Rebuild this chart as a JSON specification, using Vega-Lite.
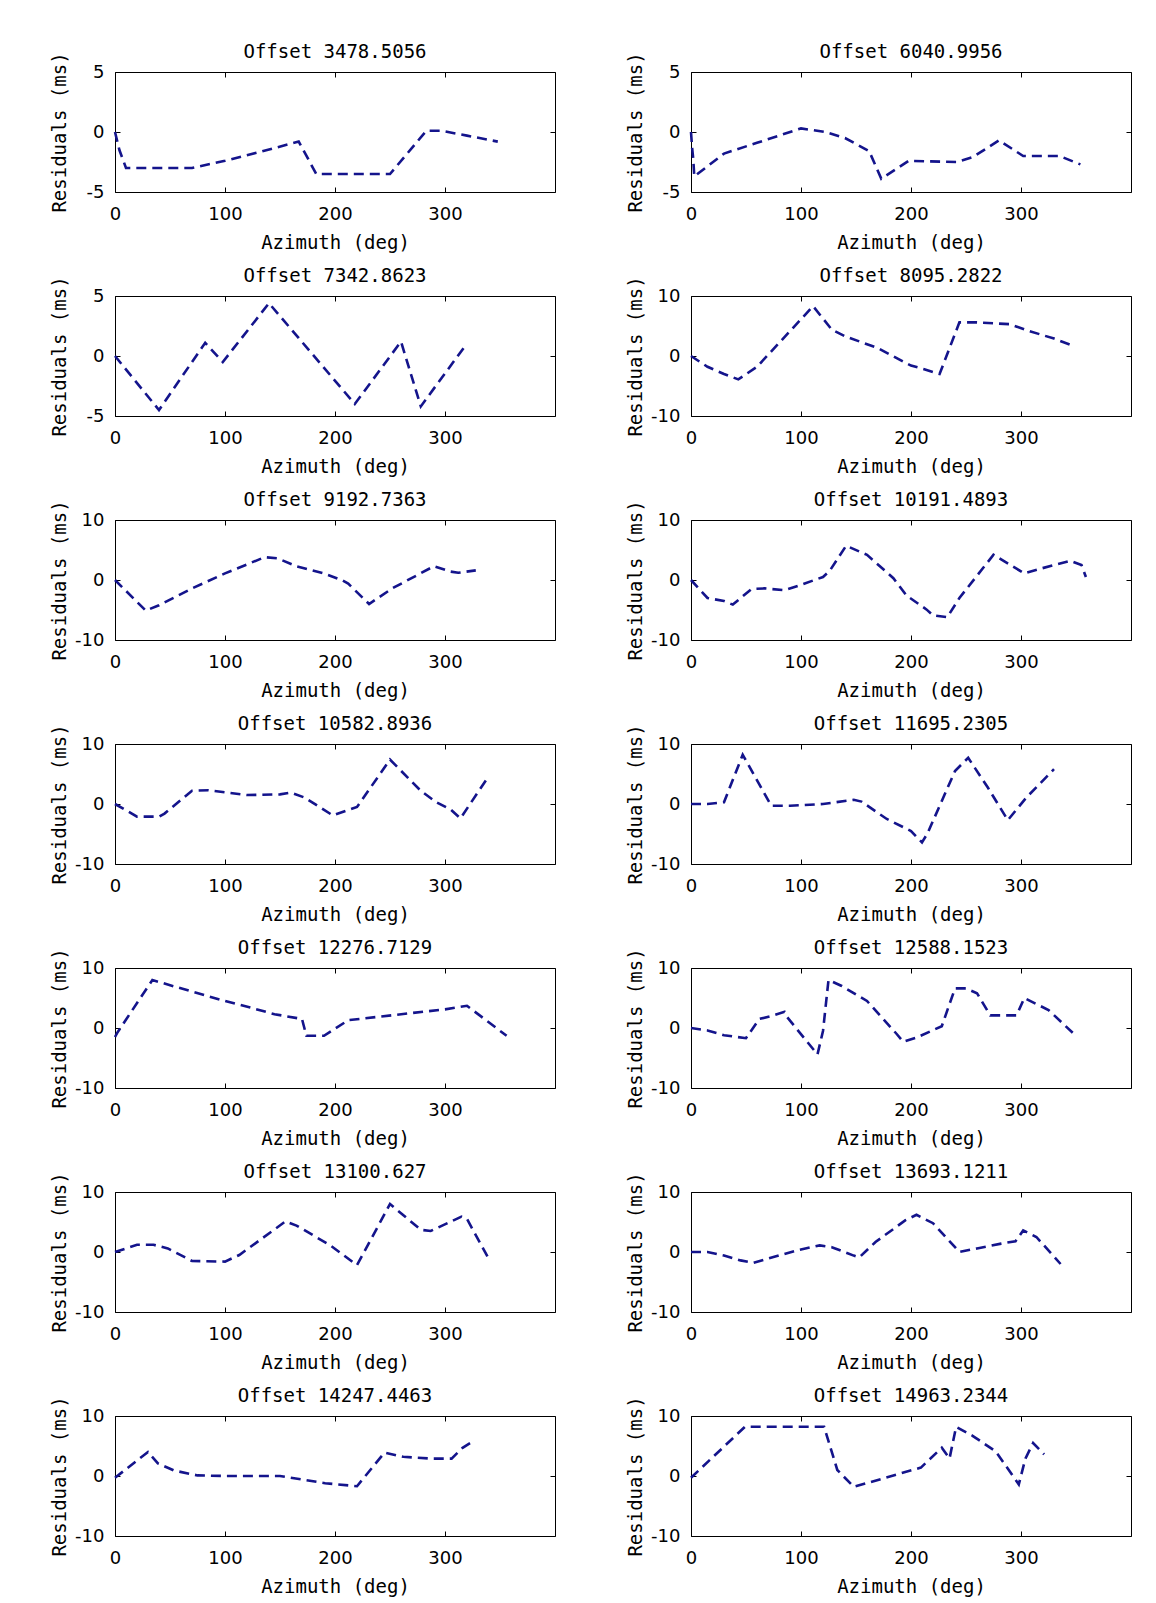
{
"$schema": "https://vega.github.io/schema/vega-lite/v6.json",
"background": "white",
"padding": {"left": 49, "top": 42, "right": 5, "bottom": 0},
"spacing": 13,
"datasets": {
"d1": [{"az":0,"r":0},{"az":4,"r":-1.5},{"az":10,"r":-3},{"az":40,"r":-3},{"az":70,"r":-3},{"az":100,"r":-2.4},{"az":130,"r":-1.7},{"az":167,"r":-0.8},{"az":183,"r":-3.5},{"az":215,"r":-3.5},{"az":250,"r":-3.5},{"az":283,"r":0.1},{"az":297,"r":0.1},{"az":320,"r":-0.3},{"az":348,"r":-0.8}],
"d2": [{"az":0,"r":0},{"az":1,"r":-1.3},{"az":2,"r":-2.2},{"az":3,"r":-3.7},{"az":30,"r":-1.8},{"az":60,"r":-0.9},{"az":100,"r":0.3},{"az":122,"r":0},{"az":140,"r":-0.5},{"az":162,"r":-1.6},{"az":173,"r":-3.9},{"az":198,"r":-2.4},{"az":242,"r":-2.5},{"az":256,"r":-2.1},{"az":280,"r":-0.7},{"az":302,"r":-2},{"az":335,"r":-2},{"az":354,"r":-2.7}],
"d3": [{"az":0,"r":0},{"az":40,"r":-4.5},{"az":82,"r":1.1},{"az":98,"r":-0.5},{"az":140,"r":4.4},{"az":218,"r":-4},{"az":260,"r":1.2},{"az":278,"r":-4.2},{"az":318,"r":0.8}],
"d4": [{"az":0,"r":0},{"az":15,"r":-1.8},{"az":30,"r":-3},{"az":43,"r":-3.9},{"az":60,"r":-1.8},{"az":111,"r":8.3},{"az":128,"r":4.4},{"az":140,"r":3.3},{"az":170,"r":1.3},{"az":200,"r":-1.6},{"az":212,"r":-2.2},{"az":226,"r":-3},{"az":244,"r":5.6},{"az":260,"r":5.6},{"az":290,"r":5.3},{"az":305,"r":4.3},{"az":330,"r":2.9},{"az":346,"r":1.8}],
"d5": [{"az":0,"r":0},{"az":28,"r":-5.1},{"az":40,"r":-4.2},{"az":70,"r":-1.4},{"az":100,"r":1.1},{"az":136,"r":3.8},{"az":148,"r":3.6},{"az":165,"r":2.3},{"az":190,"r":1.1},{"az":206,"r":0},{"az":212,"r":-0.6},{"az":231,"r":-4},{"az":252,"r":-1.4},{"az":290,"r":2.3},{"az":305,"r":1.4},{"az":312,"r":1.2},{"az":328,"r":1.6}],
"d6": [{"az":0,"r":0},{"az":15,"r":-3},{"az":30,"r":-3.5},{"az":38,"r":-4.1},{"az":55,"r":-1.5},{"az":67,"r":-1.4},{"az":85,"r":-1.7},{"az":100,"r":-0.8},{"az":120,"r":0.5},{"az":126,"r":1.5},{"az":141,"r":5.7},{"az":160,"r":4.2},{"az":184,"r":0.3},{"az":196,"r":-2.6},{"az":214,"r":-4.9},{"az":220,"r":-5.9},{"az":233,"r":-6.2},{"az":244,"r":-3},{"az":275,"r":4.2},{"az":303,"r":1.1},{"az":318,"r":1.9},{"az":345,"r":3.2},{"az":355,"r":2.5},{"az":359,"r":0.5}],
"d7": [{"az":0,"r":0},{"az":20,"r":-2.1},{"az":40,"r":-2.1},{"az":45,"r":-1.6},{"az":70,"r":2.2},{"az":85,"r":2.3},{"az":120,"r":1.5},{"az":150,"r":1.6},{"az":160,"r":1.9},{"az":172,"r":1.1},{"az":198,"r":-1.9},{"az":220,"r":-0.5},{"az":250,"r":7.4},{"az":278,"r":2.2},{"az":292,"r":0.3},{"az":305,"r":-0.9},{"az":314,"r":-2.4},{"az":340,"r":4.7}],
"d8": [{"az":0,"r":0},{"az":15,"r":0},{"az":30,"r":0.3},{"az":47,"r":8.2},{"az":73,"r":-0.3},{"az":90,"r":-0.3},{"az":120,"r":0},{"az":148,"r":0.7},{"az":155,"r":0.4},{"az":178,"r":-2.5},{"az":200,"r":-4.5},{"az":210,"r":-6.4},{"az":215,"r":-4.9},{"az":240,"r":5.5},{"az":252,"r":7.7},{"az":270,"r":2.7},{"az":288,"r":-2.7},{"az":305,"r":1.1},{"az":330,"r":5.8}],
"d9": [{"az":0,"r":-1.5},{"az":2,"r":-0.8},{"az":34,"r":8},{"az":45,"r":7.4},{"az":100,"r":4.5},{"az":123,"r":3.4},{"az":145,"r":2.3},{"az":170,"r":1.5},{"az":174,"r":-1.3},{"az":190,"r":-1.3},{"az":212,"r":1.3},{"az":270,"r":2.5},{"az":300,"r":3.1},{"az":320,"r":3.7},{"az":356,"r":-1.3}],
"d10": [{"az":0,"r":0},{"az":15,"r":-0.4},{"az":30,"r":-1.2},{"az":50,"r":-1.7},{"az":62,"r":1.5},{"az":75,"r":2.1},{"az":85,"r":2.7},{"az":87,"r":1.9},{"az":115,"r":-4.4},{"az":120,"r":-0.5},{"az":125,"r":8},{"az":137,"r":7},{"az":160,"r":4.5},{"az":187,"r":-1},{"az":193,"r":-2.3},{"az":205,"r":-1.6},{"az":228,"r":0.3},{"az":240,"r":6.6},{"az":250,"r":6.6},{"az":260,"r":5.8},{"az":272,"r":2.1},{"az":296,"r":2.1},{"az":303,"r":5},{"az":325,"r":3},{"az":347,"r":-0.8}],
"d11": [{"az":0,"r":0},{"az":20,"r":1.2},{"az":35,"r":1.2},{"az":48,"r":0.6},{"az":70,"r":-1.5},{"az":100,"r":-1.6},{"az":113,"r":-0.5},{"az":155,"r":5.1},{"az":165,"r":4.4},{"az":195,"r":1.2},{"az":220,"r":-2.2},{"az":250,"r":8},{"az":278,"r":3.7},{"az":287,"r":3.5},{"az":315,"r":5.9},{"az":320,"r":5.5},{"az":340,"r":-1.2}],
"d12": [{"az":0,"r":0},{"az":15,"r":0},{"az":30,"r":-0.6},{"az":45,"r":-1.4},{"az":57,"r":-1.8},{"az":68,"r":-1.2},{"az":97,"r":0.3},{"az":117,"r":1.1},{"az":128,"r":0.8},{"az":148,"r":-0.6},{"az":153,"r":-0.9},{"az":168,"r":1.7},{"az":195,"r":5.3},{"az":205,"r":6.2},{"az":220,"r":4.8},{"az":244,"r":0},{"az":260,"r":0.6},{"az":282,"r":1.4},{"az":295,"r":1.8},{"az":302,"r":3.6},{"az":314,"r":2.5},{"az":336,"r":-2}],
"d13": [{"az":0,"r":-0.3},{"az":30,"r":4},{"az":39,"r":2.1},{"az":54,"r":0.9},{"az":75,"r":0.1},{"az":100,"r":0},{"az":150,"r":0},{"az":191,"r":-1.2},{"az":220,"r":-1.7},{"az":245,"r":3.9},{"az":262,"r":3.2},{"az":287,"r":2.9},{"az":306,"r":2.9},{"az":316,"r":4.7},{"az":324,"r":5.6}],
"d14": [{"az":0,"r":-0.3},{"az":49,"r":8.2},{"az":121,"r":8.2},{"az":133,"r":1},{"az":148,"r":-1.8},{"az":209,"r":1.4},{"az":228,"r":4.7},{"az":235,"r":2.9},{"az":241,"r":8.2},{"az":256,"r":6.7},{"az":277,"r":4.1},{"az":298,"r":-1.4},{"az":304,"r":2.9},{"az":311,"r":5.5},{"az":321,"r":3.6}]
},
"vconcat": [
{"spacing": 69, "hconcat": [
{"title": "Offset 3478.5056", "width": 440, "height": 120, "data": {"name": "d1"},
 "layer": [
  {"mark": {"type": "line", "color": "#14148c", "strokeWidth": 2.6, "strokeDash": [10, 6]},
   "encoding": {"x": {"field": "az", "type": "quantitative", "scale": {"domain": [0, 360]}, "axis": {"values": [0, 100, 200, 300], "title": "Azimuth (deg)"}},
                "y": {"field": "r", "type": "quantitative", "scale": {"domain": [-5, 5]}, "axis": {"values": [-5, 0, 5], "title": "Residuals (ms)"}}}},
  {"mark": {"type": "line", "opacity": 0},
   "encoding": {"x": {"field": "az", "type": "quantitative", "axis": {"orient": "top", "values": [0, 100, 200, 300], "title": null}},
                "y": {"field": "r", "type": "quantitative", "axis": {"orient": "right", "values": [-5, 0, 5], "title": null}}}}
 ],
 "resolve": {"axis": {"x": "independent", "y": "independent"}}},
{"title": "Offset 6040.9956", "width": 440, "height": 120, "data": {"name": "d2"},
 "layer": [
  {"mark": {"type": "line", "color": "#14148c", "strokeWidth": 2.6, "strokeDash": [10, 6]},
   "encoding": {"x": {"field": "az", "type": "quantitative", "scale": {"domain": [0, 360]}, "axis": {"values": [0, 100, 200, 300], "title": "Azimuth (deg)"}},
                "y": {"field": "r", "type": "quantitative", "scale": {"domain": [-5, 5]}, "axis": {"values": [-5, 0, 5], "title": "Residuals (ms)"}}}},
  {"mark": {"type": "line", "opacity": 0},
   "encoding": {"x": {"field": "az", "type": "quantitative", "axis": {"orient": "top", "values": [0, 100, 200, 300], "title": null}},
                "y": {"field": "r", "type": "quantitative", "axis": {"orient": "right", "values": [-5, 0, 5], "title": null}}}}
 ],
 "resolve": {"axis": {"x": "independent", "y": "independent"}}}
]},
{"spacing": 69, "hconcat": [
{"title": "Offset 7342.8623", "width": 440, "height": 120, "data": {"name": "d3"},
 "layer": [
  {"mark": {"type": "line", "color": "#14148c", "strokeWidth": 2.6, "strokeDash": [10, 6]},
   "encoding": {"x": {"field": "az", "type": "quantitative", "scale": {"domain": [0, 360]}, "axis": {"values": [0, 100, 200, 300], "title": "Azimuth (deg)"}},
                "y": {"field": "r", "type": "quantitative", "scale": {"domain": [-5, 5]}, "axis": {"values": [-5, 0, 5], "title": "Residuals (ms)"}}}},
  {"mark": {"type": "line", "opacity": 0},
   "encoding": {"x": {"field": "az", "type": "quantitative", "axis": {"orient": "top", "values": [0, 100, 200, 300], "title": null}},
                "y": {"field": "r", "type": "quantitative", "axis": {"orient": "right", "values": [-5, 0, 5], "title": null}}}}
 ],
 "resolve": {"axis": {"x": "independent", "y": "independent"}}},
{"title": "Offset 8095.2822", "width": 440, "height": 120, "data": {"name": "d4"},
 "layer": [
  {"mark": {"type": "line", "color": "#14148c", "strokeWidth": 2.6, "strokeDash": [10, 6]},
   "encoding": {"x": {"field": "az", "type": "quantitative", "scale": {"domain": [0, 360]}, "axis": {"values": [0, 100, 200, 300], "title": "Azimuth (deg)"}},
                "y": {"field": "r", "type": "quantitative", "scale": {"domain": [-10, 10]}, "axis": {"values": [-10, 0, 10], "title": "Residuals (ms)"}}}},
  {"mark": {"type": "line", "opacity": 0},
   "encoding": {"x": {"field": "az", "type": "quantitative", "axis": {"orient": "top", "values": [0, 100, 200, 300], "title": null}},
                "y": {"field": "r", "type": "quantitative", "axis": {"orient": "right", "values": [-10, 0, 10], "title": null}}}}
 ],
 "resolve": {"axis": {"x": "independent", "y": "independent"}}}
]},
{"spacing": 69, "hconcat": [
{"title": "Offset 9192.7363", "width": 440, "height": 120, "data": {"name": "d5"},
 "layer": [
  {"mark": {"type": "line", "color": "#14148c", "strokeWidth": 2.6, "strokeDash": [10, 6]},
   "encoding": {"x": {"field": "az", "type": "quantitative", "scale": {"domain": [0, 360]}, "axis": {"values": [0, 100, 200, 300], "title": "Azimuth (deg)"}},
                "y": {"field": "r", "type": "quantitative", "scale": {"domain": [-10, 10]}, "axis": {"values": [-10, 0, 10], "title": "Residuals (ms)"}}}},
  {"mark": {"type": "line", "opacity": 0},
   "encoding": {"x": {"field": "az", "type": "quantitative", "axis": {"orient": "top", "values": [0, 100, 200, 300], "title": null}},
                "y": {"field": "r", "type": "quantitative", "axis": {"orient": "right", "values": [-10, 0, 10], "title": null}}}}
 ],
 "resolve": {"axis": {"x": "independent", "y": "independent"}}},
{"title": "Offset 10191.4893", "width": 440, "height": 120, "data": {"name": "d6"},
 "layer": [
  {"mark": {"type": "line", "color": "#14148c", "strokeWidth": 2.6, "strokeDash": [10, 6]},
   "encoding": {"x": {"field": "az", "type": "quantitative", "scale": {"domain": [0, 360]}, "axis": {"values": [0, 100, 200, 300], "title": "Azimuth (deg)"}},
                "y": {"field": "r", "type": "quantitative", "scale": {"domain": [-10, 10]}, "axis": {"values": [-10, 0, 10], "title": "Residuals (ms)"}}}},
  {"mark": {"type": "line", "opacity": 0},
   "encoding": {"x": {"field": "az", "type": "quantitative", "axis": {"orient": "top", "values": [0, 100, 200, 300], "title": null}},
                "y": {"field": "r", "type": "quantitative", "axis": {"orient": "right", "values": [-10, 0, 10], "title": null}}}}
 ],
 "resolve": {"axis": {"x": "independent", "y": "independent"}}}
]},
{"spacing": 69, "hconcat": [
{"title": "Offset 10582.8936", "width": 440, "height": 120, "data": {"name": "d7"},
 "layer": [
  {"mark": {"type": "line", "color": "#14148c", "strokeWidth": 2.6, "strokeDash": [10, 6]},
   "encoding": {"x": {"field": "az", "type": "quantitative", "scale": {"domain": [0, 360]}, "axis": {"values": [0, 100, 200, 300], "title": "Azimuth (deg)"}},
                "y": {"field": "r", "type": "quantitative", "scale": {"domain": [-10, 10]}, "axis": {"values": [-10, 0, 10], "title": "Residuals (ms)"}}}},
  {"mark": {"type": "line", "opacity": 0},
   "encoding": {"x": {"field": "az", "type": "quantitative", "axis": {"orient": "top", "values": [0, 100, 200, 300], "title": null}},
                "y": {"field": "r", "type": "quantitative", "axis": {"orient": "right", "values": [-10, 0, 10], "title": null}}}}
 ],
 "resolve": {"axis": {"x": "independent", "y": "independent"}}},
{"title": "Offset 11695.2305", "width": 440, "height": 120, "data": {"name": "d8"},
 "layer": [
  {"mark": {"type": "line", "color": "#14148c", "strokeWidth": 2.6, "strokeDash": [10, 6]},
   "encoding": {"x": {"field": "az", "type": "quantitative", "scale": {"domain": [0, 360]}, "axis": {"values": [0, 100, 200, 300], "title": "Azimuth (deg)"}},
                "y": {"field": "r", "type": "quantitative", "scale": {"domain": [-10, 10]}, "axis": {"values": [-10, 0, 10], "title": "Residuals (ms)"}}}},
  {"mark": {"type": "line", "opacity": 0},
   "encoding": {"x": {"field": "az", "type": "quantitative", "axis": {"orient": "top", "values": [0, 100, 200, 300], "title": null}},
                "y": {"field": "r", "type": "quantitative", "axis": {"orient": "right", "values": [-10, 0, 10], "title": null}}}}
 ],
 "resolve": {"axis": {"x": "independent", "y": "independent"}}}
]},
{"spacing": 69, "hconcat": [
{"title": "Offset 12276.7129", "width": 440, "height": 120, "data": {"name": "d9"},
 "layer": [
  {"mark": {"type": "line", "color": "#14148c", "strokeWidth": 2.6, "strokeDash": [10, 6]},
   "encoding": {"x": {"field": "az", "type": "quantitative", "scale": {"domain": [0, 360]}, "axis": {"values": [0, 100, 200, 300], "title": "Azimuth (deg)"}},
                "y": {"field": "r", "type": "quantitative", "scale": {"domain": [-10, 10]}, "axis": {"values": [-10, 0, 10], "title": "Residuals (ms)"}}}},
  {"mark": {"type": "line", "opacity": 0},
   "encoding": {"x": {"field": "az", "type": "quantitative", "axis": {"orient": "top", "values": [0, 100, 200, 300], "title": null}},
                "y": {"field": "r", "type": "quantitative", "axis": {"orient": "right", "values": [-10, 0, 10], "title": null}}}}
 ],
 "resolve": {"axis": {"x": "independent", "y": "independent"}}},
{"title": "Offset 12588.1523", "width": 440, "height": 120, "data": {"name": "d10"},
 "layer": [
  {"mark": {"type": "line", "color": "#14148c", "strokeWidth": 2.6, "strokeDash": [10, 6]},
   "encoding": {"x": {"field": "az", "type": "quantitative", "scale": {"domain": [0, 360]}, "axis": {"values": [0, 100, 200, 300], "title": "Azimuth (deg)"}},
                "y": {"field": "r", "type": "quantitative", "scale": {"domain": [-10, 10]}, "axis": {"values": [-10, 0, 10], "title": "Residuals (ms)"}}}},
  {"mark": {"type": "line", "opacity": 0},
   "encoding": {"x": {"field": "az", "type": "quantitative", "axis": {"orient": "top", "values": [0, 100, 200, 300], "title": null}},
                "y": {"field": "r", "type": "quantitative", "axis": {"orient": "right", "values": [-10, 0, 10], "title": null}}}}
 ],
 "resolve": {"axis": {"x": "independent", "y": "independent"}}}
]},
{"spacing": 69, "hconcat": [
{"title": "Offset 13100.627", "width": 440, "height": 120, "data": {"name": "d11"},
 "layer": [
  {"mark": {"type": "line", "color": "#14148c", "strokeWidth": 2.6, "strokeDash": [10, 6]},
   "encoding": {"x": {"field": "az", "type": "quantitative", "scale": {"domain": [0, 360]}, "axis": {"values": [0, 100, 200, 300], "title": "Azimuth (deg)"}},
                "y": {"field": "r", "type": "quantitative", "scale": {"domain": [-10, 10]}, "axis": {"values": [-10, 0, 10], "title": "Residuals (ms)"}}}},
  {"mark": {"type": "line", "opacity": 0},
   "encoding": {"x": {"field": "az", "type": "quantitative", "axis": {"orient": "top", "values": [0, 100, 200, 300], "title": null}},
                "y": {"field": "r", "type": "quantitative", "axis": {"orient": "right", "values": [-10, 0, 10], "title": null}}}}
 ],
 "resolve": {"axis": {"x": "independent", "y": "independent"}}},
{"title": "Offset 13693.1211", "width": 440, "height": 120, "data": {"name": "d12"},
 "layer": [
  {"mark": {"type": "line", "color": "#14148c", "strokeWidth": 2.6, "strokeDash": [10, 6]},
   "encoding": {"x": {"field": "az", "type": "quantitative", "scale": {"domain": [0, 360]}, "axis": {"values": [0, 100, 200, 300], "title": "Azimuth (deg)"}},
                "y": {"field": "r", "type": "quantitative", "scale": {"domain": [-10, 10]}, "axis": {"values": [-10, 0, 10], "title": "Residuals (ms)"}}}},
  {"mark": {"type": "line", "opacity": 0},
   "encoding": {"x": {"field": "az", "type": "quantitative", "axis": {"orient": "top", "values": [0, 100, 200, 300], "title": null}},
                "y": {"field": "r", "type": "quantitative", "axis": {"orient": "right", "values": [-10, 0, 10], "title": null}}}}
 ],
 "resolve": {"axis": {"x": "independent", "y": "independent"}}}
]},
{"spacing": 69, "hconcat": [
{"title": "Offset 14247.4463", "width": 440, "height": 120, "data": {"name": "d13"},
 "layer": [
  {"mark": {"type": "line", "color": "#14148c", "strokeWidth": 2.6, "strokeDash": [10, 6]},
   "encoding": {"x": {"field": "az", "type": "quantitative", "scale": {"domain": [0, 360]}, "axis": {"values": [0, 100, 200, 300], "title": "Azimuth (deg)"}},
                "y": {"field": "r", "type": "quantitative", "scale": {"domain": [-10, 10]}, "axis": {"values": [-10, 0, 10], "title": "Residuals (ms)"}}}},
  {"mark": {"type": "line", "opacity": 0},
   "encoding": {"x": {"field": "az", "type": "quantitative", "axis": {"orient": "top", "values": [0, 100, 200, 300], "title": null}},
                "y": {"field": "r", "type": "quantitative", "axis": {"orient": "right", "values": [-10, 0, 10], "title": null}}}}
 ],
 "resolve": {"axis": {"x": "independent", "y": "independent"}}},
{"title": "Offset 14963.2344", "width": 440, "height": 120, "data": {"name": "d14"},
 "layer": [
  {"mark": {"type": "line", "color": "#14148c", "strokeWidth": 2.6, "strokeDash": [10, 6]},
   "encoding": {"x": {"field": "az", "type": "quantitative", "scale": {"domain": [0, 360]}, "axis": {"values": [0, 100, 200, 300], "title": "Azimuth (deg)"}},
                "y": {"field": "r", "type": "quantitative", "scale": {"domain": [-10, 10]}, "axis": {"values": [-10, 0, 10], "title": "Residuals (ms)"}}}},
  {"mark": {"type": "line", "opacity": 0},
   "encoding": {"x": {"field": "az", "type": "quantitative", "axis": {"orient": "top", "values": [0, 100, 200, 300], "title": null}},
                "y": {"field": "r", "type": "quantitative", "axis": {"orient": "right", "values": [-10, 0, 10], "title": null}}}}
 ],
 "resolve": {"axis": {"x": "independent", "y": "independent"}}}
]}
],
"config": {
 "view": {"stroke": "#000000", "strokeWidth": 1},
 "axis": {"grid": false, "domain": false, "tickColor": "#000000", "tickSize": -5, "tickWidth": 1, "labelColor": "#000000", "labelFont": "DejaVu Sans", "labelFontSize": 18, "labelFlush": false, "labelOverlap": false, "labelExpr": "'' + datum.value", "titleFont": "DejaVu Sans Mono", "titleFontSize": 19, "titleFontWeight": "normal", "titleColor": "#000000"},
 "axisBottom": {"labelPadding": 18, "titleY": 41},
 "axisLeft": {"labelPadding": 16, "titleX": -46},
 "axisTop": {"labels": false},
 "axisRight": {"labels": false},
 "title": {"font": "DejaVu Sans Mono", "fontSize": 19, "fontWeight": "normal", "color": "#000000", "offset": -10}
}
}
